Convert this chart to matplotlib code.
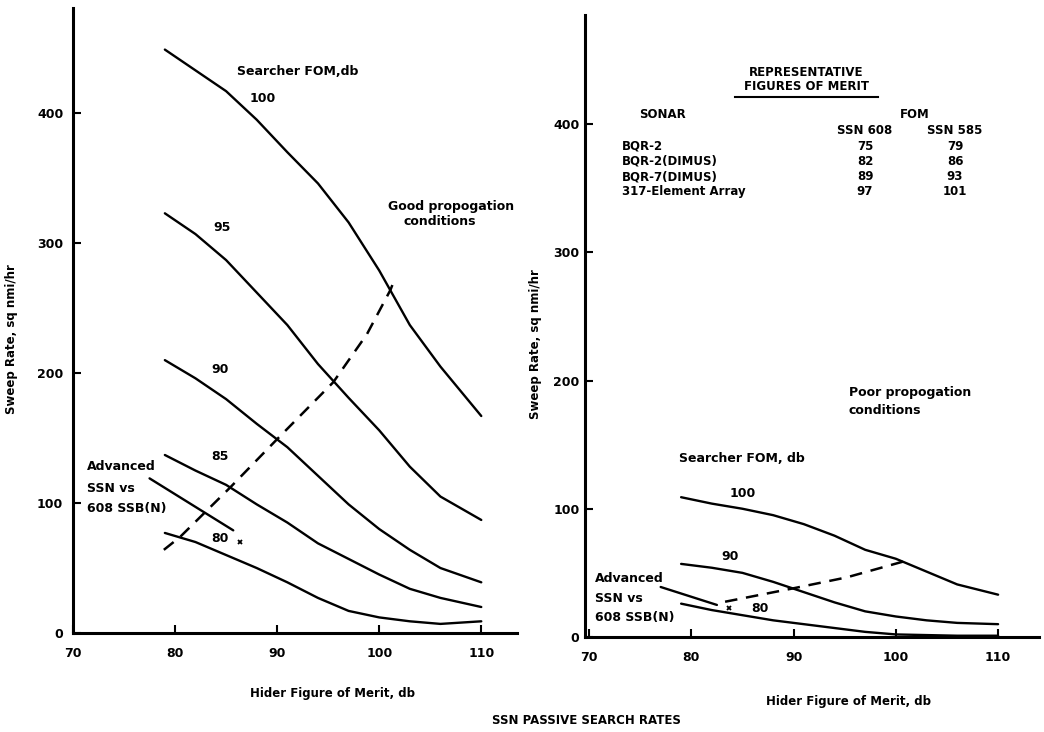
import matplotlib
matplotlib.use("Agg")
import matplotlib.pyplot as plt

plt.rcParams['font.family'] = ['DejaVu Sans']
plt.rcParams['font.weight'] = 'bold'

# hider figure of merit, db (x grid of the searcher curves)
hider = [79, 82, 85, 88, 91, 94, 97, 100, 103, 106, 110]

# good propagation, sweep rate sq nmi/hr for each searcher FOM
good_100 = [449, 433, 417, 395, 370, 346, 316, 279, 237, 205, 167]
good_95 = [323, 307, 287, 262, 237, 207, 181, 156, 128, 105, 87]
good_90 = [210, 196, 180, 161, 143, 121, 99, 80, 64, 50, 39]
good_85 = [137, 125, 114, 99, 85, 69, 57, 45, 34, 27, 20]
good_80 = [77, 70, 60, 50, 39, 27, 17, 12, 9, 7, 9]
good_labels = ["100", "95", "90", "85", "80"]

good_adv_x = [77.5, 85.7]
good_adv_y = [119, 79]
good_dash_x = [78.9, 80.5, 85.4, 90.1, 95.5, 98.8, 101.1, 101.5]
good_dash_y = [64, 74, 112, 150, 193, 230, 264, 272]

# poor propagation
poor_100 = [109, 104, 100, 95, 88, 79, 68, 61, 51, 41, 33]
poor_90 = [57, 54, 50, 43, 35, 27, 20, 16, 13, 11, 10]
poor_80 = [26, 21, 17, 13, 10, 7, 4, 2, 1.5, 1, 1]
poor_labels = ["100", "90", "80"]

poor_adv_x = [77.0, 82.5]
poor_adv_y = [39, 25]
poor_dash_x = [83.3, 90.0, 95.2, 100.8, 101.1]
poor_dash_y = [27.5, 38, 46.5, 59, 60]

# table of representative figures of merit
sonars = ["BQR-2", "BQR-2(DIMUS)", "BQR-7(DIMUS)", "317-Element Array"]
fom_608 = [75, 82, 89, 97]
fom_585 = [79, 86, 93, 101]

W, H = 1044, 732
fig = plt.figure(figsize=(W / 100, H / 100), dpi=100)


def px(x, y):
    return x / W, 1 - y / H


def style_axes(ax, ypad, xpad):
    for s in ["top", "right"]:
        ax.spines[s].set_visible(False)
    for s in ["left", "bottom"]:
        ax.spines[s].set_linewidth(2.2)
    ax.set_xticks([70, 80, 90, 100, 110])
    ax.set_yticks([0, 100, 200, 300, 400])
    ax.tick_params(direction="in", length=6, width=1.5, labelsize=9)
    ax.tick_params(axis="y", pad=ypad)
    ax.tick_params(axis="x", pad=xpad)
    for lab in ax.get_xticklabels() + ax.get_yticklabels():
        lab.set_fontweight("bold")


line_kw = dict(color="black", lw=1.7, solid_capstyle="round")
dash_kw = dict(color="black", lw=1.8, dashes=(5, 3.5))
txt_kw = dict(fontsize=9, fontweight="bold")

# ---- left panel: good propagation
ax1 = fig.add_axes([73 / W, 1 - 633 / H, (517 - 73) / W, (633 - 8) / H])
ax1.set_xlim(70, 113.5)
ax1.set_ylim(0, 481)
style_axes(ax1, 7, 10)

for ys in [good_100, good_95, good_90, good_85, good_80]:
    ax1.plot(hider, ys, **line_kw)
ax1.plot(good_adv_x, good_adv_y, **line_kw)
ax1.plot(good_dash_x, good_dash_y, **dash_kw)
ax1.plot([86.4], [70], marker="x", ms=3.5, mew=1.3, color="black")

ax1.text(92, 432, "Searcher FOM,db", ha="center", va="center", **txt_kw)
for lab, (x, y) in zip(good_labels, [(88.6, 411), (84.6, 312), (84.4, 203), (84.4, 136), (84.4, 73)]):
    ax1.text(x, y, lab, ha="center", va="center", **txt_kw)
for lab, y in zip(["Advanced", "SSN vs", "608 SSB(N)"], [128, 111, 96]):
    ax1.text(71.4, y, lab, ha="left", va="center", **txt_kw)
ax1.text(100.9, 328, "Good propogation", ha="left", va="center", **txt_kw)
ax1.text(102.4, 317, "conditions", ha="left", va="center", **txt_kw)

# ---- right panel: poor propagation
ax2 = fig.add_axes([585 / W, 1 - 637 / H, (1039 - 585) / W, (637 - 15) / H])
ax2.set_xlim(69.6, 114)
ax2.set_ylim(0, 485)
style_axes(ax2, 4, 10)

for ys in [poor_100, poor_90, poor_80]:
    ax2.plot(hider, ys, **line_kw)
ax2.plot(poor_adv_x, poor_adv_y, **line_kw)
ax2.plot(poor_dash_x, poor_dash_y, **dash_kw)
ax2.plot([83.7], [23], marker="x", ms=3.5, mew=1.3, color="black")

ax2.text(78.8, 139, "Searcher FOM, db", ha="left", va="center", **txt_kw)
for lab, (x, y) in zip(poor_labels, [(85, 112), (83.8, 62.6), (86.7, 22)]):
    ax2.text(x, y, lab, ha="center", va="center", **txt_kw)
for lab, y in zip(["Advanced", "SSN vs", "608 SSB(N)"], [46, 30, 15]):
    ax2.text(70.6, y, lab, ha="left", va="center", **txt_kw)
ax2.text(95.4, 191, "Poor propogation", ha="left", va="center", **txt_kw)
ax2.text(95.4, 177, "conditions", ha="left", va="center", **txt_kw)

# ---- table
tk = dict(fontsize=8.5, fontweight="bold", va="center")
fig.text(*px(806, 72), "REPRESENTATIVE", ha="center", **tk)
fig.text(*px(806, 87), "FIGURES OF MERIT", ha="center", **tk)
fig.add_artist(plt.Line2D([735 / W, 878 / W], [1 - 97 / H, 1 - 97 / H], color="black", lw=1.5))
fig.text(*px(662, 115), "SONAR", ha="center", **tk)
fig.text(*px(915, 115), "FOM", ha="center", **tk)
fig.text(*px(865, 131), "SSN 608", ha="center", **tk)
fig.text(*px(955, 131), "SSN 585", ha="center", **tk)
for i, name in enumerate(sonars):
    yy = 146 + i * 15.3
    fig.text(*px(622, yy), name, ha="left", **tk)
    fig.text(*px(865, yy), str(fom_608[i]), ha="center", **tk)
    fig.text(*px(955, yy), str(fom_585[i]), ha="center", **tk)

# ---- axis labels and caption
lk = dict(fontsize=8.5, fontweight="bold", va="center", ha="center")
fig.text(*px(12, 339), "Sweep Rate, sq nmi/hr", rotation=90, **lk)
fig.text(*px(535, 344), "Sweep Rate, sq nmi/hr", rotation=90, **lk)
fig.text(*px(333, 693), "Hider Figure of Merit, db", **lk)
fig.text(*px(849, 702), "Hider Figure of Merit, db", **lk)
fig.text(*px(586, 720), "SSN PASSIVE SEARCH RATES", **lk)

fig.savefig("out.png", dpi=100)
